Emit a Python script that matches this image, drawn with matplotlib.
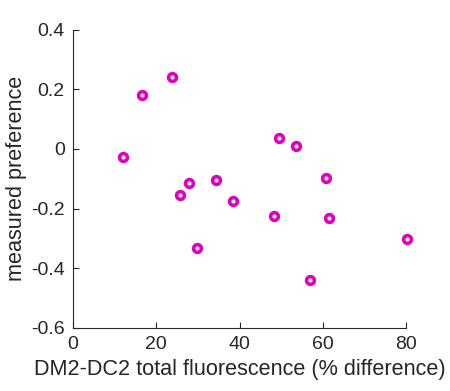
import matplotlib
matplotlib.use("Agg")
import matplotlib.pyplot as plt

x_fluor = [12.0, 16.5, 23.8, 49.5, 53.5, 60.9, 27.8, 34.4, 25.8, 38.4, 48.3, 61.5, 80.2, 29.7, 56.9]
y_pref = [-0.026, 0.181, 0.242, 0.038, 0.010, -0.099, -0.114, -0.104, -0.154, -0.176, -0.225, -0.230, -0.301, -0.332, -0.438]
x_ticks = [0, 20, 40, 60, 80]
y_ticks = [-0.6, -0.4, -0.2, 0, 0.2, 0.4]
y_ticklabels = ["-0.6", "-0.4", "-0.2", "0", "0.2", "0.4"]

plt.rcParams['font.family'] = ['Liberation Sans', 'DejaVu Sans']
fig = plt.figure(figsize=(4.5, 3.91), dpi=100)
ax = fig.add_axes([73/450, 1-328/391, (406-73)/450, (328-29.5)/391])

ax.plot(x_fluor, y_pref, linestyle='none', marker='o', markersize=5.6,
        markerfacecolor='white', markeredgecolor='#E000C0', markeredgewidth=2.6,
        clip_on=False)

ax.set_xlim(0, 80)
ax.set_ylim(-0.6, 0.4)
ax.set_xticks(x_ticks)
ax.set_xticklabels([str(t) for t in x_ticks])
ax.set_yticks(y_ticks)
ax.set_yticklabels(y_ticklabels)
for s in ['top', 'right']:
    ax.spines[s].set_visible(False)
for s in ['left', 'bottom']:
    ax.spines[s].set_color('#262626')
    ax.spines[s].set_linewidth(0.8)
ax.tick_params(direction='in', length=4, width=0.8, colors='#262626', labelsize=14, pad=6)
ax.set_xlabel('DM2-DC2 total fluorescence (% difference)', fontsize=15.6, color='#262626', labelpad=4)
ax.set_ylabel('measured preference', fontsize=15.6, color='#262626', labelpad=3)
fig.savefig('out.png', dpi=100)
